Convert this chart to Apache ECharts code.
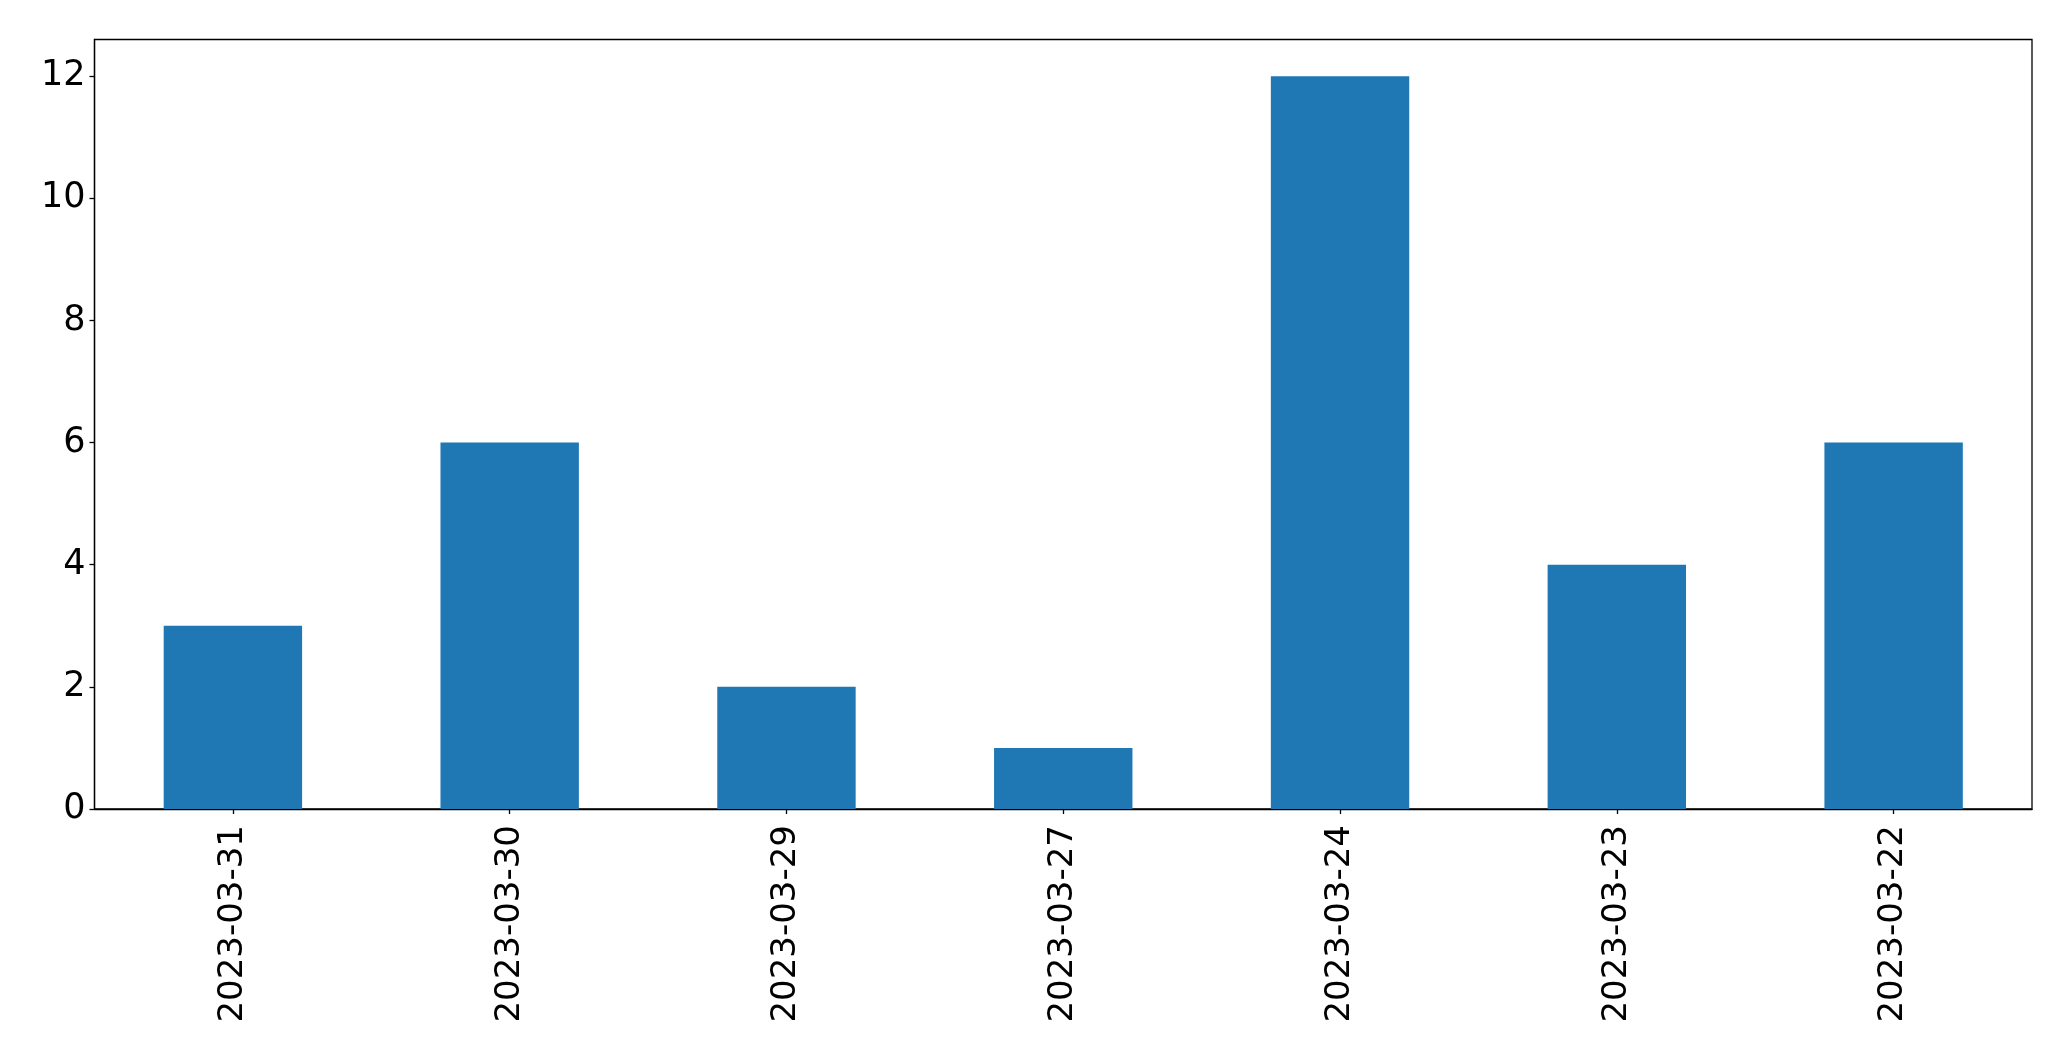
<!DOCTYPE html>
<html>
<head>
<meta charset="utf-8">
<script src="https://cdn.jsdelivr.net/npm/echarts@6/dist/echarts.min.js"></script>
<style>
html,body{margin:0;padding:0;background:#fff;}
#c{width:2071px;height:1061px;}
</style>
</head>
<body>
<div id="c"></div>
<script>
const categories = ['2023-03-31','2023-03-30','2023-03-29','2023-03-27','2023-03-24','2023-03-23','2023-03-22'];
const values = [3, 6, 2, 1, 12, 4, 6];
const yTicks = [0, 2, 4, 6, 8, 10, 12];

const chart = echarts.init(document.getElementById('c'), null, {renderer: 'canvas'});
const font = 'DejaVu Sans';
chart.setOption({
  animation: false,
  backgroundColor: '#ffffff',
  grid: {
    left: 94.5, right: 39, top: 39.5, bottom: 252,
    show: true, borderColor: '#000', borderWidth: 1.3, backgroundColor: 'transparent'
  },
  xAxis: {
    type: 'category',
    data: categories,
    boundaryGap: true,
    axisLine: {show: true, lineStyle: {color: '#000', width: 1.3}},
    axisTick: {show: true, alignWithLabel: true, length: 5, lineStyle: {color: '#000', width: 1.3}},
    axisLabel: {rotate: 90, margin: 16, color: '#000', fontSize: 34, fontFamily: font, interval: 0},
    splitLine: {show: false}
  },
  yAxis: {
    type: 'value',
    min: 0, max: 12.6, interval: 2,
    axisLine: {show: true, lineStyle: {color: '#000', width: 1.3}},
    axisTick: {show: true, length: 5, customValues: yTicks, lineStyle: {color: '#000', width: 1.3}},
    axisLabel: {margin: 9, color: '#000', fontSize: 35, fontFamily: font, customValues: yTicks},
    splitLine: {show: false}
  },
  series: [{
    type: 'bar',
    data: values,
    barWidth: '50%',
    itemStyle: {color: '#1f77b4'}
  }]
});
</script>
</body>
</html>
